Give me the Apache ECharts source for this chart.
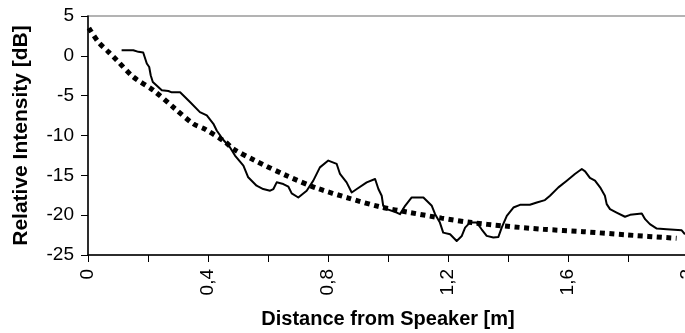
<!DOCTYPE html>
<html>
<head>
<meta charset="utf-8">
<script src="https://cdn.jsdelivr.net/npm/echarts@6/dist/echarts.min.js"></script>
<style>
  html, body { margin: 0; padding: 0; background: #fff; }
  #chart { width: 685px; height: 333px; }
</style>
</head>
<body>
<div id="chart"></div>
<script>
// Measured intensity along the distance from the speaker: [distance m, dB]
const measured = [
  [0.112, 0.71], [0.151, 0.71], [0.168, 0.5], [0.184, 0.42], [0.196, -0.96],
  [0.204, -1.4], [0.209, -2.44], [0.216, -3.28], [0.246, -4.33], [0.268, -4.41],
  [0.279, -4.58], [0.307, -4.58], [0.340, -5.8], [0.373, -7.06], [0.396, -7.48],
  [0.418, -8.53], [0.429, -9.37], [0.450, -10.5], [0.473, -11.47], [0.490, -12.52],
  [0.518, -13.78], [0.534, -15.25], [0.562, -16.3], [0.584, -16.72], [0.607, -16.93],
  [0.618, -16.72], [0.629, -15.88], [0.651, -16.09], [0.668, -16.43], [0.679, -17.27],
  [0.701, -17.78], [0.729, -16.93], [0.751, -15.67], [0.773, -14.0], [0.801, -13.15],
  [0.829, -13.57], [0.840, -14.83], [0.862, -15.88], [0.879, -17.15], [0.896, -16.72],
  [0.929, -15.88], [0.957, -15.46], [0.968, -16.72], [0.979, -17.56], [0.984, -18.82],
  [0.996, -19.24], [1.029, -19.67], [1.040, -19.87], [1.057, -18.82], [1.079, -17.78],
  [1.118, -17.78], [1.146, -18.82], [1.157, -19.87], [1.173, -20.93], [1.184, -22.19],
  [1.207, -22.39], [1.229, -23.24], [1.246, -22.61], [1.257, -21.56], [1.273, -20.93],
  [1.296, -20.93], [1.312, -21.77], [1.329, -22.6], [1.351, -22.81], [1.368, -22.73],
  [1.379, -21.56], [1.396, -20.09], [1.418, -19.04], [1.440, -18.7], [1.473, -18.7],
  [1.496, -18.41], [1.523, -18.11], [1.540, -17.56], [1.568, -16.51], [1.596, -15.67],
  [1.623, -14.83], [1.646, -14.2], [1.657, -14.5], [1.673, -15.33], [1.690, -15.67],
  [1.707, -16.51], [1.723, -17.56], [1.729, -18.61], [1.740, -19.24], [1.762, -19.67],
  [1.790, -20.2], [1.807, -19.96], [1.846, -19.8], [1.857, -20.5], [1.873, -21.13],
  [1.896, -21.68], [1.929, -21.77], [1.979, -21.9], [1.990, -22.4]
];

// Trend curve through the measurement
const trend = [
  [0.003, 3.5], [0.034, 1.76], [0.068, 0.5], [0.096, -0.55], [0.151, -2.65],
  [0.218, -4.33], [0.290, -6.64], [0.351, -8.53], [0.390, -9.2], [0.457, -10.8],
  [0.484, -11.68], [0.557, -13.15], [0.662, -15.04], [0.762, -16.6], [0.868, -17.85],
  [0.973, -18.95], [1.073, -19.67], [1.179, -20.37], [1.279, -20.93], [1.384, -21.35],
  [1.518, -21.77], [1.651, -22.07], [1.796, -22.48], [1.962, -22.9]
];

// Axis tick labels
const xTickValues = [0, 0.4, 0.8, 1.2, 1.6, 2];
const xTickLabels = ['0', '0,4', '0,8', '1,2', '1,6', '2'];

const FONT = '"Liberation Sans", Arial, sans-serif';

const chart = echarts.init(document.getElementById('chart'), null, { renderer: 'canvas' });

chart.setOption({
  backgroundColor: '#ffffff',
  animation: false,
  grid: {
    left: 88, right: -3, top: 16, bottom: 78,
    outerBoundsMode: 'none', containLabel: false,
    show: true, borderColor: '#9a9a9a', borderWidth: 1.5, backgroundColor: 'transparent'
  },
  xAxis: {
    type: 'value', min: 0, max: 2, interval: 0.2,
    name: 'Distance from Speaker [m]',
    nameLocation: 'middle', nameGap: 54,
    nameTextStyle: { fontFamily: FONT, fontSize: 20, fontWeight: 'bold', color: '#000' },
    axisLine: { show: true, onZero: false, lineStyle: { color: '#000', width: 1.5 } },
    axisTick: { show: true, length: 7, lineStyle: { color: '#000', width: 1 } },
    splitLine: { show: false },
    axisLabel: {
      rotate: 90, margin: 14, showMaxLabel: true, showMinLabel: true,
      fontFamily: FONT, fontSize: 19, color: '#000',
      formatter: function (v) {
        const i = xTickValues.findIndex(t => Math.abs(t - v) < 1e-6);
        return i >= 0 ? xTickLabels[i] : '';
      }
    }
  },
  yAxis: {
    type: 'value', min: -25, max: 5, interval: 5,
    name: 'Relative Intensity [dB]',
    nameLocation: 'middle', nameGap: 56,
    nameTextStyle: { fontFamily: FONT, fontSize: 21, fontWeight: 'bold', color: '#000' },
    axisLine: { show: true, onZero: false, lineStyle: { color: '#000', width: 1.5 } },
    axisTick: { show: true, length: 7, lineStyle: { color: '#000', width: 1 } },
    splitLine: { show: false },
    axisLabel: { margin: 14, fontFamily: FONT, fontSize: 19, color: '#000' }
  },
  series: [
    {
      type: 'line', data: trend, symbol: 'none', smooth: 0.3, z: 2,
      lineStyle: { color: '#000', width: 5, type: [5, 4.5], cap: 'butt' }
    },
    {
      type: 'line', data: measured, symbol: 'none', z: 3,
      lineStyle: { color: '#000', width: 2, join: 'round' }
    }
  ]
});
</script>
</body>
</html>
